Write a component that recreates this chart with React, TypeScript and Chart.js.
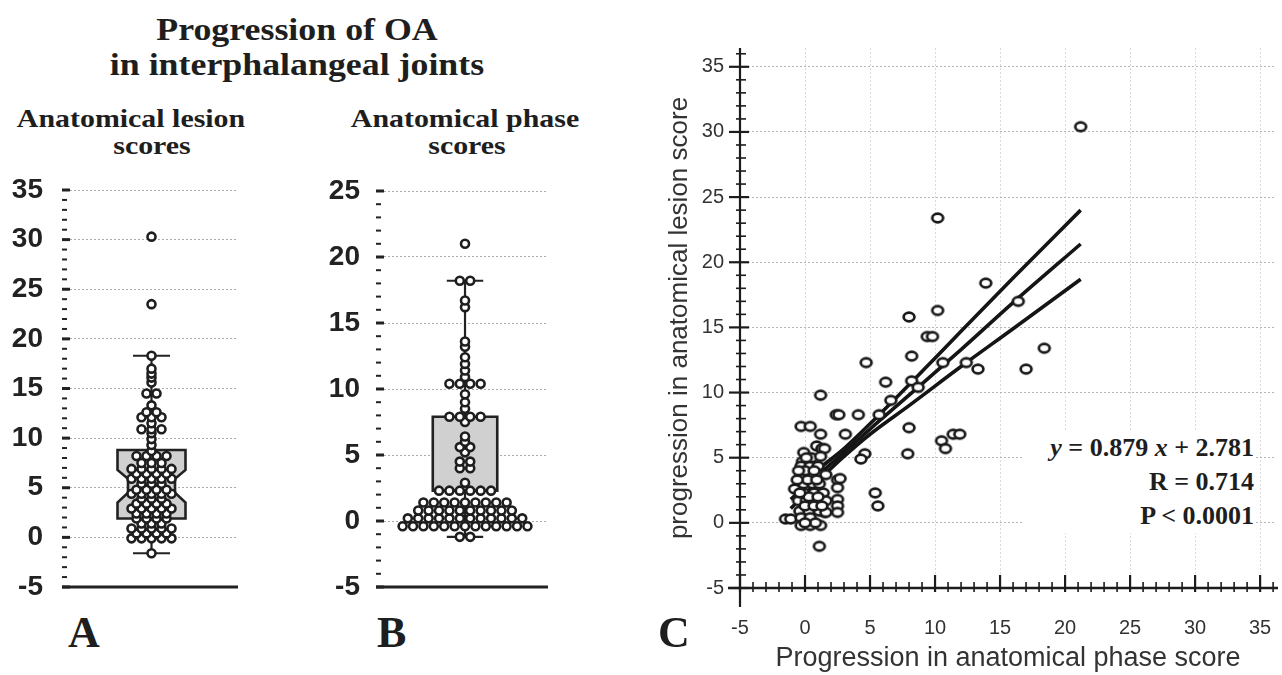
import React, { useEffect, useRef } from 'react';
import { Chart, registerables } from 'chart.js';

Chart.register(...registerables);

// ---------------- Panel A: anatomical lesion scores (one value per joint) ----------------
const lesionScores = [
  -1.6,
  -0.1, -0.1, -0.1, -0.1, -0.1,
  0.4, 0.4, 0.4, 0.4,
  0.9, 0.9, 0.9, 0.9, 0.9,
  1.4, 1.4, 1.4,
  1.9, 1.9, 1.9, 1.9,
  2.4, 2.4, 2.4, 2.4,
  2.9, 2.9, 2.9, 2.9, 2.9,
  3.4, 3.4, 3.4, 3.4,
  3.9, 3.9, 3.9,
  4.4, 4.4, 4.4, 4.4, 4.4,
  4.8, 4.8, 4.8, 4.8,
  5.4, 5.4, 5.4,
  5.9, 5.9, 5.9, 5.9, 5.9,
  6.4, 6.4, 6.4, 6.4,
  6.9, 6.9, 6.9, 6.9, 6.9,
  7.5, 7.5, 7.5,
  8.2, 8.2, 8.2, 8.2,
  8.7, 9.3, 9.9, 10.5,
  10.9, 10.9, 10.9,
  11.5,
  12.1, 12.1, 12.1,
  12.6, 12.6,
  13.3,
  14.5, 14.5,
  15.6, 16.1, 16.5, 17.0, 18.3,
  23.5, 30.3,
];
// whisker low, Q1, median, Q3, whisker high
const lesionBoxStats = [-1.6, 1.9, 5.2, 8.8, 18.3];
// notch: outer low, inner low, inner high, outer high
const lesionNotch = [3.5, 4.5, 5.9, 6.8];
const lesionTicks = [-5, 35];

// ---------------- Panel B: anatomical phase scores ----------------
const phaseScores = [
  -1.2, -1.2,
  -0.4, -0.4, -0.4, -0.4, -0.4, -0.4, -0.4, -0.4, -0.4, -0.4, -0.4, -0.4, -0.4,
  0.2, 0.2, 0.2, 0.2, 0.2, 0.2, 0.2, 0.2, 0.2, 0.2, 0.2, 0.2,
  0.8, 0.8, 0.8, 0.8, 0.8, 0.8, 0.8, 0.8, 0.8, 0.8,
  1.4, 1.4, 1.4, 1.4, 1.4, 1.4, 1.4, 1.4, 1.4,
  2.3, 2.3, 2.3, 2.3, 2.3, 2.3,
  2.9,
  4.0, 4.0,
  4.5, 4.5,
  5.2,
  5.6, 5.6,
  6.0, 6.4,
  7.5,
  7.9, 7.9, 7.9, 7.9,
  8.5, 9.0, 9.6,
  10.4, 10.4, 10.4, 10.4,
  10.9, 11.4, 11.9, 12.4, 13.2, 13.6,
  16.2, 16.7,
  18.2, 18.2,
  21.0,
];
const phaseBoxStats = [-1.2, 2.3, 2.3, 7.9, 18.2];
const phaseTicks = [-5, 25];

// ---------------- Panel C: progression scatter ----------------
const phaseChange = [
  21.2, 10.2, 13.9, 16.4, 10.2, 8.0, 9.4, 9.8, 18.4, 8.2,
  4.7, 10.6, 12.4, 13.3, 17.0, 6.2, 8.2, 8.7, 1.2, 6.6,
  2.4, 2.6, 4.1, 5.7, 3.1, -0.3, 0.4, 1.2, 8.0, 10.5,
  10.8, 11.4, 11.9, 7.9, 4.6, 4.3, 5.4, 5.6, 2.5, 2.5,
  2.5, 2.5, 2.5, 1.5, 1.1, -1.5, -1.1, 0.9, 1.3, 1.5,
  -0.1, -0.2, -0.3, 0.4, 1.0, -0.3, 0.4, 1.2, 1.6, 2.7,
  -0.8, -0.1, 0.6, 1.1, -0.1, 0.7, 1.4, -0.5, 0.1, 0.9,
  1.6, -0.4, 0.3, 1.1, 1.6, -0.3, 0.4, -0.3, 0.4, 1.2,
  0.0, 0.7, 0.2, 0.9, 0.3, 1.0, 0.0, 0.7, 1.3, 0.8,
  -0.6, -0.5, 0.5, 0.1, 1.2, -0.4, 0.0,
];
const lesionChange = [
  30.4, 23.4, 18.4, 17.0, 16.3, 15.8, 14.3, 14.3, 13.4, 12.8,
  12.3, 12.3, 12.3, 11.8, 11.8, 10.8, 10.9, 10.4, 9.8, 9.4,
  8.3, 8.3, 8.3, 8.3, 6.8, 7.4, 7.4, 6.8, 7.3, 6.3,
  5.7, 6.8, 6.8, 5.3, 5.3, 4.9, 2.3, 1.3, 3.3, 2.7,
  1.8, 1.3, 0.8, 0.8, -1.8, 0.3, 0.3, 5.9, 5.7, 5.7,
  5.4, 4.7, 4.35, 4.35, 4.35, 3.7, 3.7, 3.7, 3.7, 3.4,
  2.6, 3.0, 3.0, 3.0, 2.3, 2.3, 2.3, 1.7, 1.7, 1.7,
  1.7, 0.9, 0.9, 0.9, 0.8, 0.4, 0.4, -0.2, -0.2, -0.2,
  4.0, 4.0, 3.3, 3.3, 2.0, 2.0, 1.3, 1.3, 1.3, 0.0,
  3.3, 4.0, 5.0, 5.0, 5.1, 2.3, 0.0,
];
// regression line and its confidence band
const bandX = [-1.1, 1.5, 3.0, 5.0, 8.0, 12.0, 16.0, 21.2];
const fitY = [1.8, 4.1, 5.4, 7.2, 9.8, 13.3, 16.9, 21.4];
const upperY = [2.5, 4.5, 5.7, 7.6, 10.6, 14.7, 18.8, 24.0];
const lowerY = [1.1, 3.7, 5.1, 6.8, 9.0, 12.0, 14.9, 18.7];
const scatterXTicks = [-5, 35];
const scatterYTicks = [-5, 35];

const SANS = '"Liberation Sans", Arial, Helvetica, sans-serif';
const SERIF = '"Liberation Serif", "Times New Roman", Times, serif';
const INK = '#222';

// beeswarm: equal values are laid out side by side, centred on 0
function swarm(values: number[]) {
  const counts = new Map<number, number>();
  values.forEach((v) => counts.set(v, (counts.get(v) ?? 0) + 1));
  const seen = new Map<number, number>();
  return values.map((v) => {
    const n = counts.get(v) as number;
    const i = seen.get(v) ?? 0;
    seen.set(v, i + 1);
    return { x: i - (n - 1) / 2, y: v };
  });
}

function boxPlugin(stats: number[], notch: number[] | null, half: number, notchHalf: number, capHalf: number) {
  return {
    id: 'boxplot',
    beforeDatasetsDraw(chart: any) {
      const { ctx } = chart;
      const xs = chart.scales.x;
      const ys = chart.scales.y;
      const X = (v: number) => xs.getPixelForValue(v);
      const Y = (v: number) => ys.getPixelForValue(v);
      const [lo, q1, , q3, hi] = stats;
      ctx.save();
      ctx.strokeStyle = INK;
      ctx.lineWidth = 2.2;
      ctx.beginPath();
      ctx.moveTo(X(0), Y(lo));
      ctx.lineTo(X(0), Y(hi));
      ctx.stroke();
      [lo, hi].forEach((v) => {
        ctx.beginPath();
        ctx.moveTo(X(-capHalf), Y(v));
        ctx.lineTo(X(capHalf), Y(v));
        ctx.stroke();
      });
      ctx.beginPath();
      if (notch) {
        const [ol, il, ih, oh] = notch;
        ctx.moveTo(X(-half), Y(q3));
        ctx.lineTo(X(half), Y(q3));
        ctx.lineTo(X(half), Y(oh));
        ctx.lineTo(X(notchHalf), Y(ih));
        ctx.lineTo(X(notchHalf), Y(il));
        ctx.lineTo(X(half), Y(ol));
        ctx.lineTo(X(half), Y(q1));
        ctx.lineTo(X(-half), Y(q1));
        ctx.lineTo(X(-half), Y(ol));
        ctx.lineTo(X(-notchHalf), Y(il));
        ctx.lineTo(X(-notchHalf), Y(ih));
        ctx.lineTo(X(-half), Y(oh));
      } else {
        ctx.moveTo(X(-half), Y(q3));
        ctx.lineTo(X(half), Y(q3));
        ctx.lineTo(X(half), Y(q1));
        ctx.lineTo(X(-half), Y(q1));
      }
      ctx.closePath();
      ctx.fillStyle = '#d0d0d0';
      ctx.fill();
      ctx.lineWidth = 2.6;
      ctx.stroke();
      ctx.restore();
    },
  };
}

const boxAxisPlugin = {
  id: 'boxAxis',
  afterDraw(chart: any) {
    const { ctx } = chart;
    const ys = chart.scales.y;
    const { left, right } = chart.chartArea;
    ctx.save();
    ctx.strokeStyle = INK;
    for (let v = ys.min; v <= ys.max; v++) {
      const y = ys.getPixelForValue(v);
      const major = v % 5 === 0;
      ctx.lineWidth = major ? 3 : 2;
      ctx.beginPath();
      ctx.moveTo(left, y);
      ctx.lineTo(left + (major ? 8 : 5), y);
      ctx.stroke();
    }
    const yb = ys.getPixelForValue(ys.min);
    ctx.lineWidth = 3;
    ctx.beginPath();
    ctx.moveTo(left, yb);
    ctx.lineTo(right, yb);
    ctx.stroke();
    ctx.restore();
  },
};

const scatterAxisPlugin = {
  id: 'scatterAxis',
  afterDatasetsDraw(chart: any) {
    const { ctx } = chart;
    const xs = chart.scales.x;
    const ys = chart.scales.y;
    const { left, right, top, bottom } = chart.chartArea;
    ctx.save();
    ctx.strokeStyle = '#1c1c1c';
    ctx.lineWidth = 2.2;
    ctx.beginPath();
    ctx.moveTo(left, top);
    ctx.lineTo(left, bottom + 19);
    ctx.stroke();
    ctx.lineWidth = 2.6;
    ctx.beginPath();
    ctx.moveTo(left - 12, bottom);
    ctx.lineTo(right + 2, bottom);
    ctx.stroke();
    for (let v = Math.ceil(ys.min); v <= ys.max; v++) {
      const y = ys.getPixelForValue(v);
      const major = v % 5 === 0;
      ctx.lineWidth = major ? 2.2 : 1.6;
      ctx.beginPath();
      ctx.moveTo(left - (major ? 11 : 4), y);
      ctx.lineTo(left + (major ? 9 : 6), y);
      ctx.stroke();
    }
    for (let v = Math.ceil(xs.min); v <= xs.max; v++) {
      const x = xs.getPixelForValue(v);
      const major = v % 5 === 0;
      ctx.lineWidth = major ? 2.2 : 1.6;
      ctx.beginPath();
      ctx.moveTo(x, bottom - (major ? 13 : 6));
      ctx.lineTo(x, bottom + 4);
      ctx.stroke();
    }
    ctx.restore();
  },
};

const noVPad = (s: any) => {
  s.paddingTop = 0;
  s.paddingBottom = 0;
};

function boxChart(canvas: HTMLCanvasElement, values: number[], ticks: number[], xRange: number[], pad: any, labelPad: number, plugin: any) {
  return new Chart(canvas, {
    type: 'scatter',
    data: {
      datasets: [
        {
          data: swarm(values),
          pointRadius: 4,
          pointBorderWidth: 2.6,
          pointBorderColor: '#1e1e1e',
          pointBackgroundColor: '#ffffff',
          pointHoverRadius: 4,
        },
      ],
    },
    options: {
      animation: false,
      responsive: false,
      events: [],
      layout: { padding: pad },
      plugins: { legend: { display: false }, tooltip: { enabled: false } },
      scales: {
        x: { type: 'linear', display: false, min: xRange[0], max: xRange[1] },
        y: {
          type: 'linear',
          min: ticks[0],
          max: ticks[1],
          afterFit: (s: any) => {
            s.width = 62;
            noVPad(s);
          },
          ticks: {
            stepSize: 5,
            padding: labelPad,
            color: INK,
            font: { family: SANS, size: 28, weight: 'bold' },
          },
          grid: {
            drawTicks: false,
            color: (c: any) => (c.tick && c.tick.value === ticks[0] ? 'rgba(0,0,0,0)' : '#ababab'),
            lineWidth: 1,
          },
          border: { display: false, dash: [2, 2] },
        },
      },
    } as any,
    plugins: [plugin, boxAxisPlugin],
  });
}

function ellipseDot() {
  const c = document.createElement('canvas');
  c.width = 16;
  c.height = 14;
  const g = c.getContext('2d') as CanvasRenderingContext2D;
  g.lineWidth = 2.7;
  g.strokeStyle = '#1a1a1a';
  g.fillStyle = '#ffffff';
  g.beginPath();
  g.ellipse(8, 7, 5.4, 4.3, 0, 0, Math.PI * 2);
  g.fill();
  g.stroke();
  return c;
}

type TextProps = {
  children: React.ReactNode;
  x: number;
  base: number;
  size: number;
  serif?: boolean;
  align?: 'left' | 'center' | 'right';
  sx?: number;
  weight?: string;
};

function Txt({ children, x, base, size, serif = true, align = 'left', sx = 1, weight = 'bold' }: TextProps) {
  const asc = serif ? 0.8375 : 0.8465;
  const tr = align === 'center' ? '-50%' : align === 'right' ? '-100%' : '0';
  const origin = align === 'center' ? '50% 0' : align === 'right' ? '100% 0' : '0 0';
  return (
    <div
      style={{
        position: 'absolute',
        left: x,
        top: base - asc * size,
        fontFamily: serif ? SERIF : SANS,
        fontSize: size,
        lineHeight: `${size}px`,
        fontWeight: weight as any,
        whiteSpace: 'nowrap',
        color: '#1e1e1e',
        transform: `translateX(${tr}) scaleX(${sx})`,
        transformOrigin: origin,
      }}
    >
      {children}
    </div>
  );
}

export default function App() {
  const refA = useRef<HTMLCanvasElement>(null);
  const refB = useRef<HTMLCanvasElement>(null);
  const refC = useRef<HTMLCanvasElement>(null);

  useEffect(() => {
    const charts: Chart[] = [];
    if (refA.current) {
      charts.push(
        boxChart(
          refA.current,
          lesionScores,
          lesionTicks,
          [-8.95, 8.65],
          { top: 20, right: 12, bottom: 18, left: 0 },
          19,
          boxPlugin(lesionBoxStats, lesionNotch, 3.4, 2.35, 1.85)
        )
      );
    }
    if (refB.current) {
      charts.push(
        boxChart(
          refB.current,
          phaseScores,
          phaseTicks,
          [-8.56, 7.98],
          { top: 21, right: 16, bottom: 18, left: 0 },
          16,
          boxPlugin(phaseBoxStats, null, 3.1, 3.1, 1.75)
        )
      );
    }
    if (refC.current) {
      const dot = ellipseDot();
      const lineDs = (ys: number[]) => ({
        type: 'line',
        data: bandX.map((x, i) => ({ x, y: ys[i] })),
        borderColor: '#151515',
        borderWidth: 3.6,
        pointRadius: 0,
        fill: false,
        cubicInterpolationMode: 'monotone',
        order: 1,
      });
      charts.push(
        new Chart(refC.current, {
          type: 'scatter',
          data: {
            datasets: [
              {
                data: phaseChange.map((x, i) => ({ x, y: lesionChange[i] })),
                pointStyle: dot,
                pointRadius: 5,
                order: 0,
              },
              lineDs(upperY),
              lineDs(fitY),
              lineDs(lowerY),
            ],
          },
          options: {
            animation: false,
            responsive: false,
            events: [],
            layout: { padding: { top: 8, right: 2, bottom: 0, left: 0 } },
            plugins: { legend: { display: false }, tooltip: { enabled: false } },
            scales: {
              x: {
                type: 'linear',
                min: scatterXTicks[0],
                max: -5 + 540 / 13.1,
                afterFit: (s: any) => {
                  s.height = 87;
                  s.paddingLeft = 0;
                  s.paddingRight = 0;
                },
                ticks: {
                  stepSize: 5,
                  includeBounds: false,
                  padding: 28,
                  color: '#333',
                  font: { family: SANS, size: 20 },
                },
                grid: { drawTicks: false, color: '#dadada', lineWidth: 1 },
                border: { display: false, dash: [2, 2] },
                title: {
                  display: true,
                  text: 'Progression in anatomical phase score',
                  color: '#333',
                  font: { family: SANS, size: 27 },
                  padding: { top: 0, bottom: 0 },
                },
              },
              y: {
                type: 'linear',
                min: scatterYTicks[0],
                max: -5 + 540 / 13.03,
                afterFit: (s: any) => {
                  s.width = 100;
                  noVPad(s);
                },
                ticks: {
                  stepSize: 5,
                  includeBounds: false,
                  padding: 16,
                  color: '#333',
                  font: { family: SANS, size: 20 },
                },
                grid: {
                  drawTicks: false,
                  color: (c: any) => (c.tick && c.tick.value === -5 ? 'rgba(0,0,0,0)' : '#b4b4b4'),
                  lineWidth: 1,
                },
                border: { display: false, dash: [2, 2] },
                title: {
                  display: true,
                  text: 'progression in anatomical lesion score',
                  color: '#333',
                  font: { family: SANS, size: 26 },
                  padding: { top: 24, bottom: 0 },
                },
              },
            },
          } as any,
          plugins: [scatterAxisPlugin],
        })
      );
    }
    return () => charts.forEach((c) => c.destroy());
  }, []);

  return (
    <div
      style={{
        position: 'fixed',
        left: 0,
        top: 0,
        width: 1282,
        height: 675,
        background: '#fff',
        overflow: 'hidden',
      }}
    >
      <canvas ref={refA} width={250} height={435} style={{ position: 'absolute', left: 0, top: 170 }} />
      <canvas ref={refB} width={250} height={435} style={{ position: 'absolute', left: 314, top: 170 }} />
      <canvas ref={refC} width={642} height={635} style={{ position: 'absolute', left: 640, top: 40 }} />

      <Txt x={297} base={40} size={32} align="center" sx={1.12}>Progression of OA</Txt>
      <Txt x={297} base={75} size={32} align="center" sx={1.12}>in interphalangeal joints</Txt>

      <Txt x={131} base={128} size={26} align="center" sx={1.15}>Anatomical lesion</Txt>
      <Txt x={152} base={155} size={26} align="center" sx={1.15}>scores</Txt>
      <Txt x={465} base={128} size={26} align="center" sx={1.15}>Anatomical phase</Txt>
      <Txt x={467} base={155} size={26} align="center" sx={1.15}>scores</Txt>

      <Txt x={68} base={648} size={44}>A</Txt>
      <Txt x={377} base={648} size={44}>B</Txt>
      <Txt x={658} base={648} size={44}>C</Txt>

      <div
        style={{
          position: 'absolute',
          left: 1024,
          top: 431,
          width: 230,
          height: 102,
          background: '#fff',
          textAlign: 'right',
          fontFamily: SERIF,
          fontWeight: 'bold',
          fontSize: 26,
          lineHeight: '34px',
          color: '#1e1e1e',
          whiteSpace: 'nowrap',
        }}
      >
        <div>
          <i>y</i> = 0.879 <i>x</i> + 2.781
        </div>
        <div>R = 0.714</div>
        <div>P &lt; 0.0001</div>
      </div>
    </div>
  );
}
